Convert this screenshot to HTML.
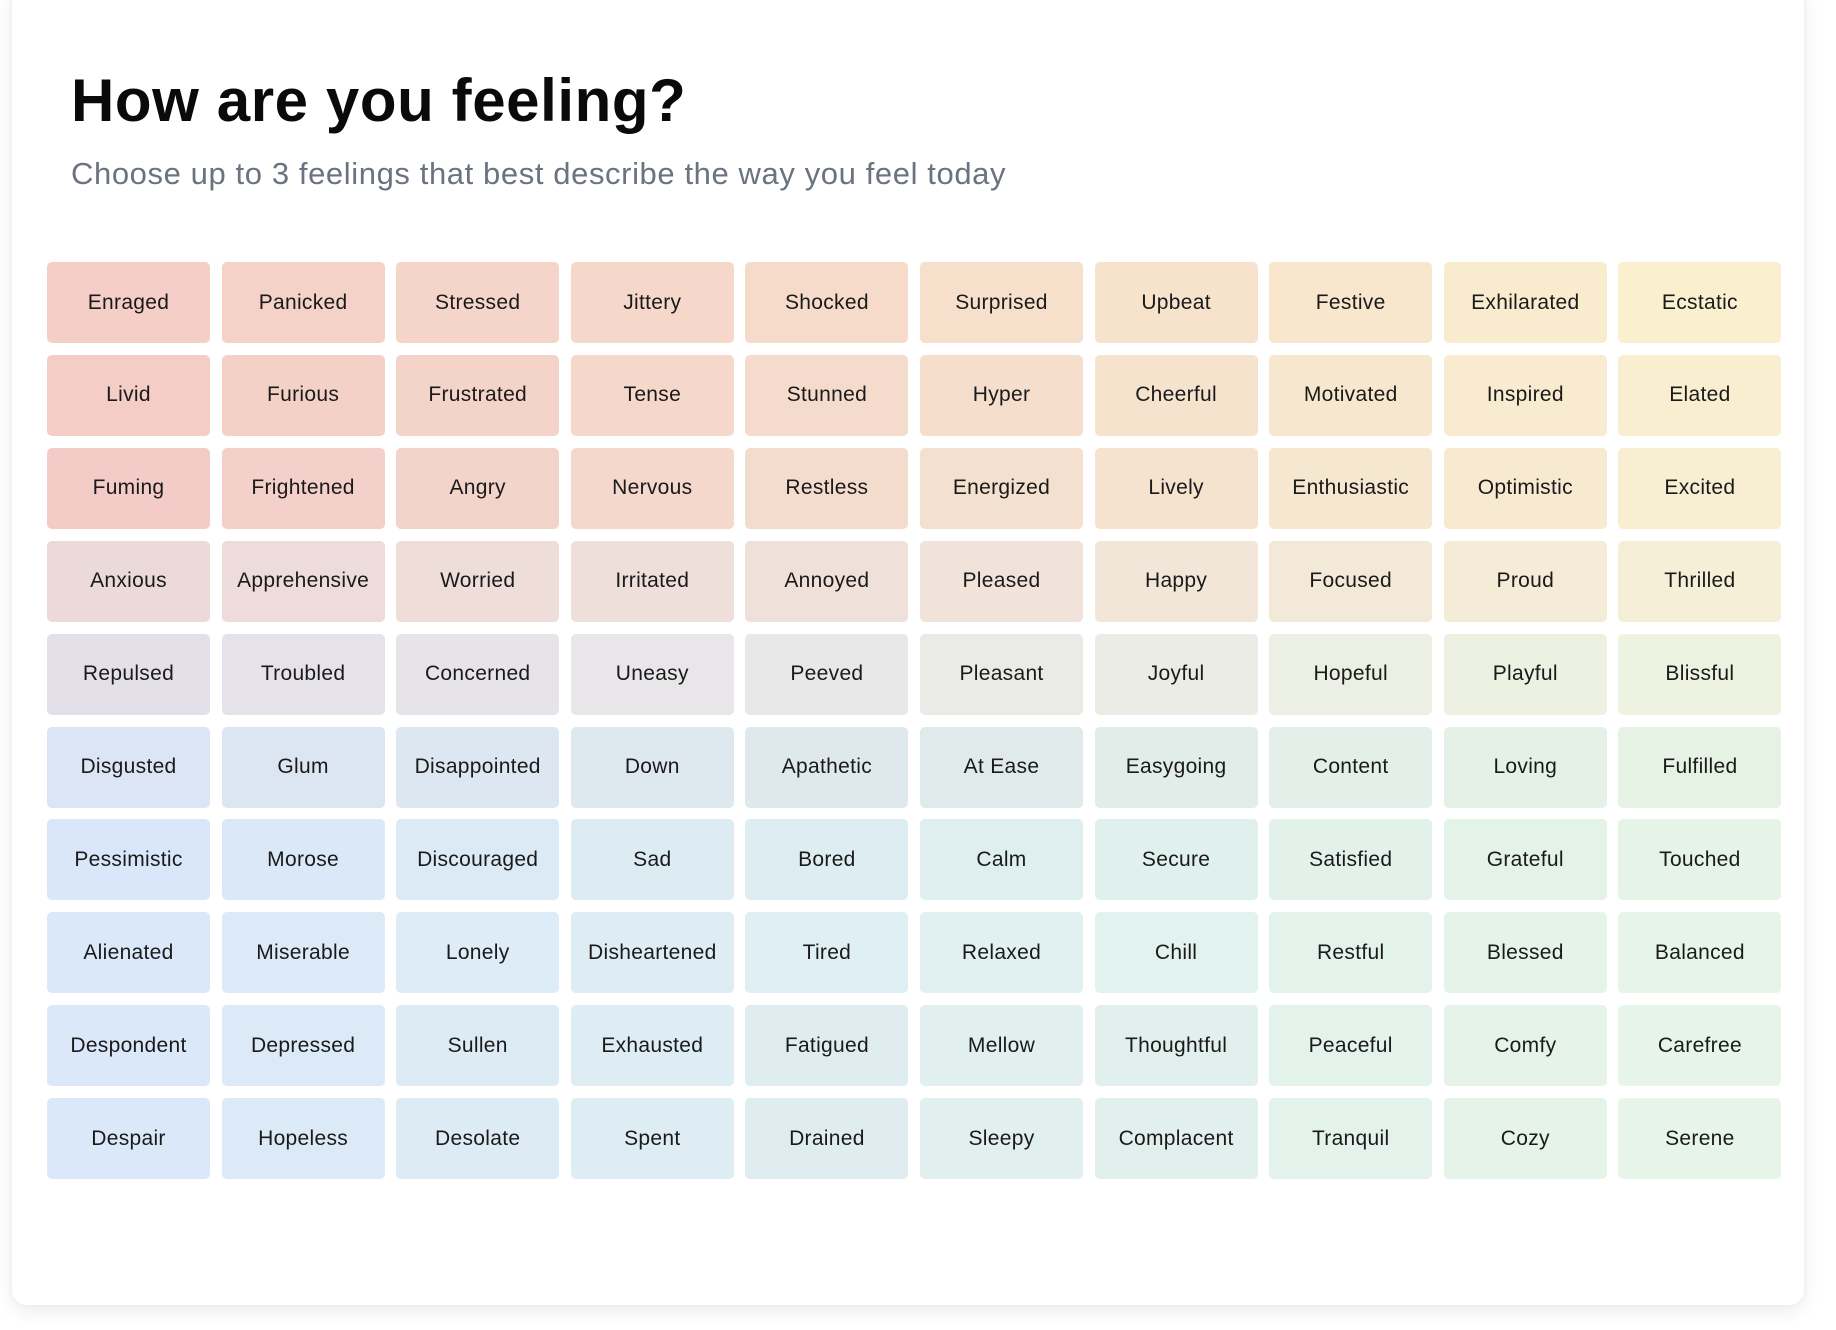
<!DOCTYPE html>
<html><head><meta charset="utf-8">
<style>
html,body{margin:0;padding:0;background:#fff;width:1836px;height:1330px;overflow:hidden;font-family:"Liberation Sans",sans-serif;}
#card{position:absolute;left:12px;top:-20px;width:1792px;height:1325px;background:#fff;border-radius:14px;box-shadow:0 6px 18px rgba(0,0,0,0.08),0 0 4px rgba(0,0,0,0.05);}
#title{position:absolute;left:71px;top:66px;font-size:60px;font-weight:bold;color:#0a0a0a;margin:0;letter-spacing:0.6px;}
#sub{position:absolute;left:71px;top:156px;font-size:31px;color:#6b7380;margin:0;letter-spacing:0.6px;}
.cell{position:absolute;width:163px;height:81px;border-radius:5px;display:flex;align-items:center;justify-content:center;font-size:21px;color:#1a1a1a;cursor:pointer;letter-spacing:0.3px;}
</style></head>
<body>
<div id="card"></div>
<h1 id="title">How are you feeling?</h1>
<p id="sub">Choose up to 3 feelings that best describe the way you feel today</p>
<div id="grid"></div>
<script>
const feelings = [
["Enraged","Panicked","Stressed","Jittery","Shocked","Surprised","Upbeat","Festive","Exhilarated","Ecstatic"],
["Livid","Furious","Frustrated","Tense","Stunned","Hyper","Cheerful","Motivated","Inspired","Elated"],
["Fuming","Frightened","Angry","Nervous","Restless","Energized","Lively","Enthusiastic","Optimistic","Excited"],
["Anxious","Apprehensive","Worried","Irritated","Annoyed","Pleased","Happy","Focused","Proud","Thrilled"],
["Repulsed","Troubled","Concerned","Uneasy","Peeved","Pleasant","Joyful","Hopeful","Playful","Blissful"],
["Disgusted","Glum","Disappointed","Down","Apathetic","At Ease","Easygoing","Content","Loving","Fulfilled"],
["Pessimistic","Morose","Discouraged","Sad","Bored","Calm","Secure","Satisfied","Grateful","Touched"],
["Alienated","Miserable","Lonely","Disheartened","Tired","Relaxed","Chill","Restful","Blessed","Balanced"],
["Despondent","Depressed","Sullen","Exhausted","Fatigued","Mellow","Thoughtful","Peaceful","Comfy","Carefree"],
["Despair","Hopeless","Desolate","Spent","Drained","Sleepy","Complacent","Tranquil","Cozy","Serene"]
];
const rowLeft=[[245,207,199],[244,205,198],[243,204,199],[236,218,217],[227,224,234],[219,229,245],[218,230,249],[219,232,249],[219,232,249],[219,232,249]];
const rowMid=[[246,221,203],[245,221,204],[244,222,206],[240,225,218],[234,233,232],[224,233,236],[222,238,240],[224,240,242],[224,238,240],[224,238,240]];
const rowRight=[[250,239,207],[249,239,208],[248,238,210],[246,239,215],[237,243,224],[230,243,228],[229,244,230],[230,245,231],[230,245,231],[230,245,231]];
const grid=document.getElementById('grid');
function lerp(a,b,t){return a.map((v,i)=>Math.round(v+(b[i]-v)*t));}
feelings.forEach((row,r)=>{
  row.forEach((name,c)=>{
    const t=c/9;
    const col = t<0.5 ? lerp(rowLeft[r],rowMid[r],t*2) : lerp(rowMid[r],rowRight[r],(t-0.5)*2);
    const d=document.createElement('div');
    d.className='cell';
    
    
    d.style.left=(47+c*174.6)+'px';
    d.style.top=(262+r*92.9)+'px';
    d.style.background='rgb('+col.join(',')+')';
    d.textContent=name;
    grid.appendChild(d);
  });
});
</script>
</body></html>
